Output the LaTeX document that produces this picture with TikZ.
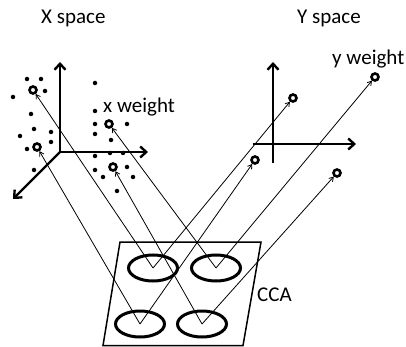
\documentclass[tikz,border=0pt]{standalone}
\usepackage{fontspec}
\setmainfont{Carlito}
\usetikzlibrary{shapes.geometric,arrows.meta}

\begin{document}
\begin{tikzpicture}[x=1pt, y=-1pt,
    wpt/.style={circle, draw, line width=2.6pt, inner sep=0pt, minimum size=7pt},
    dot/.style={circle, fill, inner sep=0pt, minimum size=4.5pt},
    unit/.style={ellipse, draw, line width=3pt, minimum width=49pt, minimum height=26pt},
    axis/.style={-{Straight Barb[length=6pt,width=11pt]}, line width=2.4pt},
    map/.style={-{Straight Barb[length=4pt,width=5pt]}, line width=0.8pt},
    lbl/.style={anchor=base west, inner sep=0pt, font=\fontsize{21}{25}\selectfont}]
  \useasboundingbox (0,0) rectangle (406,347);

  % labels
  \node[lbl] (xs) at (41,24) {X space};
  \node[lbl] (ys) at (297,24) {Y space};
  \node[lbl] (xw) at (103,113) {x weight};
  \node[lbl] (yw) at (332,65) {y weight};
  \node[lbl] (cca) at (257,301) {CCA};

  % CCA plane
  \draw[line width=1.5pt] (120,242) -- (261,242) -- (243,345.5) -- (103,345.5) -- cycle;
  \node[unit] (u1) at (153,268) {};
  \node[unit] (u2) at (216,268) {};
  \node[unit] (u3) at (140,324) {};
  \node[unit] (u4) at (202,324) {};

  % X space
  \coordinate (xo) at (60,152);
  \coordinate (xu) at (60,62);
  \coordinate (xr) at (148,152);
  \coordinate (xd) at (13,199);
  \draw[axis] (xo) -- (xu);
  \draw[axis] (xo) -- (xr);
  \draw[axis] (xo) -- (xd);
  \foreach \p in {(27,79),(41,79),(45,91),(13,97),(31,114),(34,129),(51,132),(20,136),(51,142),(27,149),(34,170),
                  (95,83),(95,111),(95,124),(127,124),(95,134),(111,140),(95,156),(110,153),(123,153),
                  (127,167),(95,170),(103,177),(133,177),(117,191)}
    \node[dot] at \p {};
  \node[wpt] (x1) at (33,90) {};
  \node[wpt] (x2) at (37,147) {};
  \node[wpt] (x3) at (109,124) {};
  \node[wpt] (x4) at (113,167) {};

  % Y space
  \coordinate (yb) at (273,163);
  \coordinate (yu) at (273,62);
  \coordinate (yl) at (253,144);
  \coordinate (yr) at (356,144);
  \draw[axis] (yb) -- (yu);
  \draw[axis] (yl) -- (yr);
  \node[wpt] (y1) at (293,98) {};
  \node[wpt] (y2) at (375,77) {};
  \node[wpt] (y3) at (255,160) {};
  \node[wpt] (y4) at (337,173) {};

  % projections
  \draw[map] (u1.center) -- (x1);
  \draw[map] (u1.center) -- (y1);
  \draw[map] (u2.center) -- (x3);
  \draw[map] (u2.center) -- (y2);
  \draw[map] (u3.center) -- (x2);
  \draw[map] (u3.center) -- (y3);
  \draw[map] (u4.center) -- (x4);
  \draw[map] (u4.center) -- (y4);
\end{tikzpicture}
\end{document}
